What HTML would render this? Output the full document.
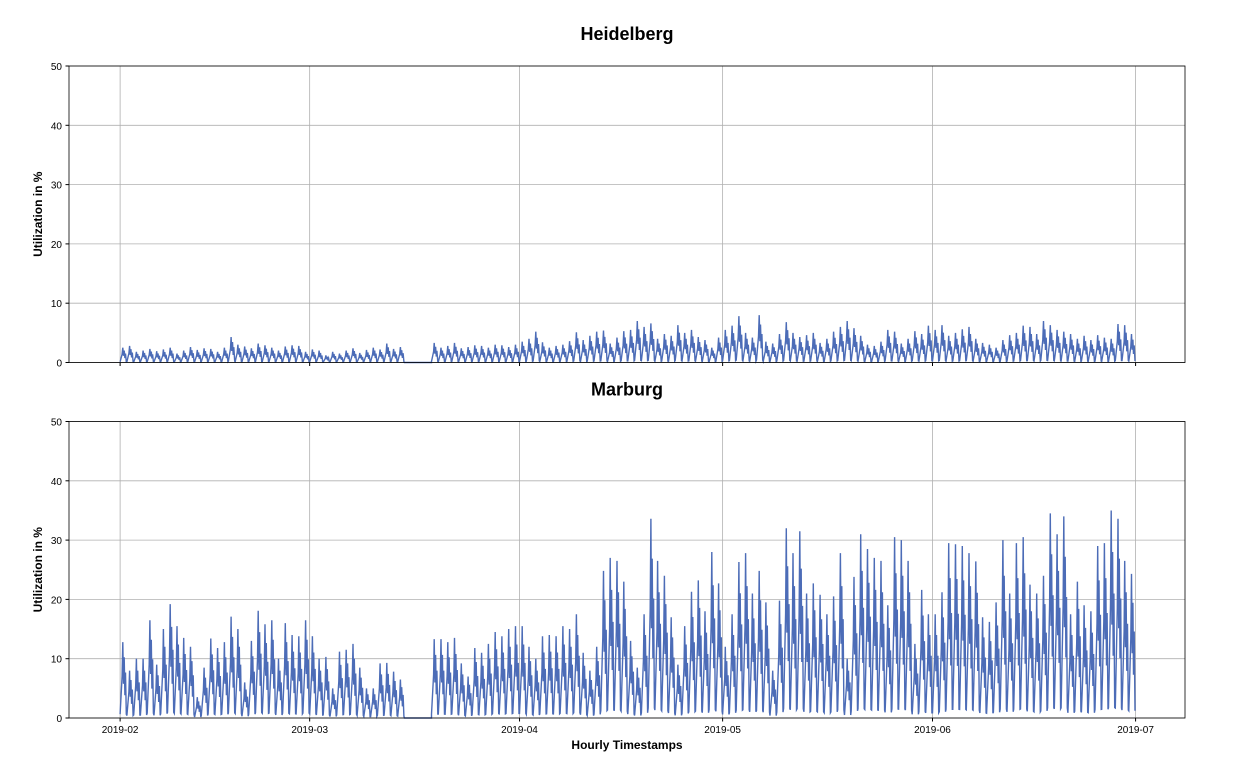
<!DOCTYPE html>
<html><head><meta charset="utf-8"><style>
body{margin:0;background:#fff;font-family:"Liberation Sans",sans-serif}
svg{display:block}
</style></head><body>
<svg id="c" width="1239" height="770"></svg>
<script>
const dates=["2019-02","2019-03","2019-04","2019-05","2019-06","2019-07"];
const dateOffsets=[0,28,59,89,120,150];
const yTicks=[0,10,20,30,40,50];
const heidelbergPeaks=[2.5,2.8,1.8,2.0,2.3,1.9,2.2,2.5,1.5,2.0,2.6,2.1,2.4,2.3,1.8,2.5,4.3,3.0,2.7,2.4,3.2,2.9,2.5,2.0,2.7,2.9,2.8,1.8,
2.2,2.0,1.2,1.8,1.5,2.0,2.4,1.6,2.1,2.5,2.2,3.2,2.3,2.6,null,null,null,null,3.3,2.5,2.8,3.3,2.4,2.6,2.9,2.8,2.5,3.0,2.9,2.6,3.0,
3.5,4.0,5.2,3.4,2.5,2.8,3.0,3.6,5.1,3.8,4.5,5.2,5.4,3.2,4.2,5.3,5.5,7.0,6.0,6.6,4.0,4.8,4.5,6.3,5.0,5.5,4.3,3.8,2.5,4.2,
5.5,6.2,7.8,5.0,4.2,8.0,3.5,3.2,4.8,6.8,5.0,4.3,4.6,5.0,3.3,4.0,5.2,6.0,7.0,5.8,4.5,3.0,2.8,3.5,5.5,5.2,3.2,4.0,5.3,4.8,6.2,
5.5,6.3,4.5,5.0,5.6,6.0,4.0,3.3,3.0,2.5,3.8,4.6,5.0,6.2,6.0,4.8,7.0,6.3,5.5,5.2,4.8,4.0,4.5,3.8,4.6,4.2,4.0,6.5,6.3,4.8];
const marburgPeaks=[12.8,8,10,10,16.5,9,15,19.2,15.5,13.5,12,3.5,8.5,13.4,11.8,12.8,17.1,15,6,13,18.1,15.8,16.5,10,16,14,13.8,16.5,
13.8,10,10.3,5,11.2,11.5,12.5,8.5,5,5,9.2,9.3,7.8,6.5,null,null,null,null,13.3,13.3,12.8,13.5,9.2,7,11.8,11,12.5,14.5,13.8,15,15.5,
15.5,12,10,13.8,14,13.8,15.5,15,17.5,11,8,12,24.8,27,26.5,23,13,8.5,17.5,33.6,26.5,24,17,9,15.5,21.3,23.2,18,28,22.7,
12,17.5,26.3,27.8,21,24.8,19.5,8,19.8,32,27.8,31.5,21,22.7,20.8,17.5,20.5,27.8,10,23.8,31,28.5,27,26.5,19,30.5,30,26.5,12.5,21.6,17.5,
17.5,21.2,29.5,29.3,29,27.8,26.4,17,16.2,19.5,30,21,29.5,30.5,22.5,21,24,34.5,31,34,17.5,23,19,18,29,29.5,35,33.6,26.5,24.3];
const NS="http://www.w3.org/2000/svg";
const svg=document.getElementById('c');
function mk(t,a,p){const e=document.createElementNS(NS,t);for(const k in a)e.setAttribute(k,a[k]);(p||svg).appendChild(e);return e;}
const X0=69,X1=1185,D0=-7.55,D1=157.3;
const xs=d=>X0+(d-D0)/(D1-D0)*(X1-X0);
function panel(title,peaks,top,name,showX){
  const bot=top+296.5;
  const ys=v=>bot-v/50*(bot-top);
  const g=mk('g',{});
  
  
  const t=mk('text',{x:627,y:top-26,'text-anchor':'middle','font-size':18,'font-weight':'bold'},g);t.textContent=title;
  
  yTicks.forEach(v=>{mk('line',{x1:X0,x2:X1,y1:ys(v),y2:ys(v),stroke:'#b0b0b0','stroke-width':0.8},g);
    mk('line',{x1:X0-3.5,x2:X0,y1:ys(v),y2:ys(v),stroke:'#000'},g);
    const l=mk('text',{x:X0-7,y:ys(v)+4,'text-anchor':'end','font-size':10},g);l.textContent=v;
    });
  dateOffsets.forEach((d,i)=>{const x=xs(d);mk('line',{x1:x,x2:x,y1:top,y2:bot,stroke:'#b0b0b0','stroke-width':0.8},g);
    mk('line',{x1:x,x2:x,y1:bot,y2:bot+3.5,stroke:'#000'},g);
    if(showX){const l=mk('text',{x:x,y:bot+15,'text-anchor':'middle','font-size':10},g);l.textContent=dates[i];
      }});
  const shape=[[0,0.05],[0.3,0.55],[0.4,1],[0.5,0.45],[0.6,0.8],[0.7,0.3],[0.8,0.6],[0.92,0.05]];
  let pts=[];
  peaks.forEach((p,d)=>{
    if(p===null){pts.push([xs(d),ys(0)]);pts.push([xs(d+1),ys(0)]);return;}
    shape.forEach(([f,r])=>pts.push([xs(d+f),ys(p*r)]));
  });
  const path=mk('path',{d:'M'+pts.map(p=>p[0].toFixed(1)+','+p[1].toFixed(1)).join('L'),fill:'none',stroke:'#4c6cb7','stroke-width':1.4},g);
  
  mk('rect',{x:X0,y:top,width:X1-X0,height:bot-top,fill:'none',stroke:'#000','stroke-width':0.8},g);
  const yl=mk('text',{x:0,y:0,transform:`translate(42,${(top+bot)/2}) rotate(-90)`,'text-anchor':'middle','font-size':12,'font-weight':'bold'},g);
  yl.textContent='Utilization in %';
}
panel('Heidelberg',heidelbergPeaks,66,'heidelberg',false);
panel('Marburg',marburgPeaks,421.5,'marburg',true);
const xl=mk('text',{x:627,y:749,'text-anchor':'middle','font-size':12,'font-weight':'bold'});
xl.textContent='Hourly Timestamps';


</script>
</body></html>
